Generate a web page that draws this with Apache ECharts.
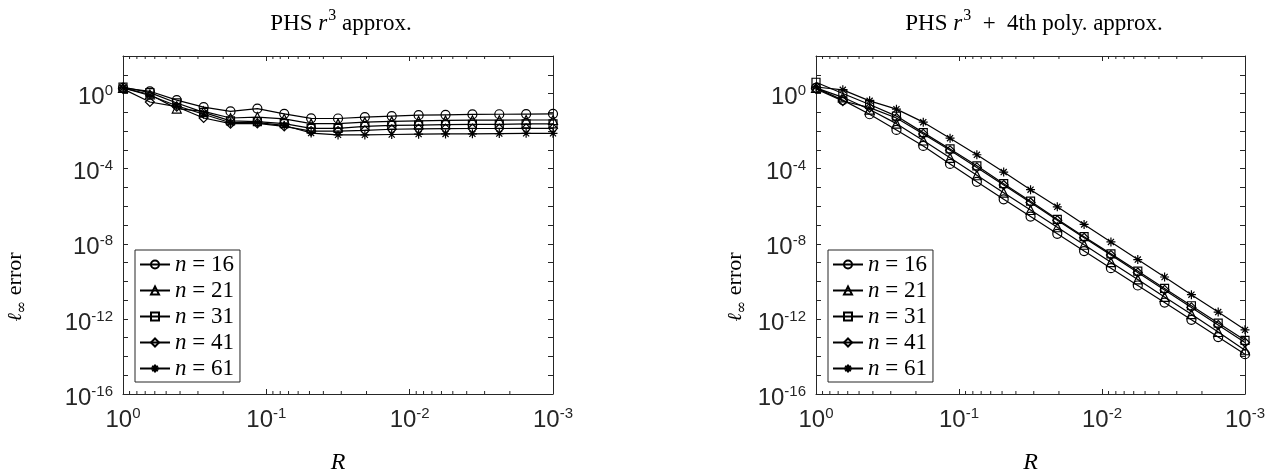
<!DOCTYPE html>
<html><head><meta charset="utf-8">
<script src="https://cdn.jsdelivr.net/npm/echarts@6/dist/echarts.min.js"></script>
<style>html,body{margin:0;padding:0;background:#fff}#c{width:1278px;height:475px}</style>
</head><body><div id="c"></div>
<script>
// Stencil radius R (x values, 17 points)
const R = [1, 0.6494, 0.4217, 0.2738, 0.1778, 0.1155, 0.0750, 0.0487, 0.0316, 0.02054, 0.01334, 0.00866, 0.00562, 0.00365, 0.00237, 0.00154, 0.001];
const seriesNames = ['n = 16', 'n = 21', 'n = 31', 'n = 41', 'n = 61'];

// Left panel: PHS r^3 approx.
const left16 = [2.0, 1.32, 0.447, 0.19, 0.112, 0.158, 0.083, 0.048, 0.047, 0.056, 0.063, 0.071, 0.074, 0.078, 0.079, 0.081, 0.083];
const left21 = [2.0, 0.89, 0.158, 0.112, 0.050, 0.056, 0.045, 0.025, 0.025, 0.030, 0.033, 0.035, 0.037, 0.038, 0.038, 0.039, 0.039];
const left31 = [2.24, 1.12, 0.316, 0.10, 0.035, 0.032, 0.025, 0.014, 0.014, 0.018, 0.020, 0.021, 0.022, 0.023, 0.023, 0.024, 0.024];
const left41 = [1.78, 0.355, 0.20, 0.050, 0.025, 0.026, 0.018, 0.010, 0.010, 0.011, 0.0126, 0.0132, 0.0135, 0.0138, 0.0138, 0.0141, 0.0141];
const left61 = [2.0, 0.79, 0.224, 0.079, 0.028, 0.028, 0.020, 0.0079, 0.0063, 0.0063, 0.0066, 0.0069, 0.0071, 0.0072, 0.0074, 0.0076, 0.0076];

// Right panel: PHS r^3 + 4th poly. approx.
const right16 = [2.0, 0.447, 0.079, 0.0115, 1.62e-3, 1.78e-4, 2.0e-5, 2.34e-6, 2.82e-7, 3.39e-8, 4.07e-9, 5.0e-10, 6.0e-11, 7.4e-12, 8.9e-13, 1.07e-13, 1.32e-14];
const right21 = [2.0, 0.63, 0.141, 0.025, 3.16e-3, 3.8e-4, 4.47e-5, 5.25e-6, 6.3e-7, 7.6e-8, 8.9e-9, 1.05e-9, 1.26e-10, 1.48e-11, 1.78e-12, 2.0e-13, 2.14e-14];
const right31 = [4.0, 1.0, 0.263, 0.063, 8.3e-3, 1.12e-3, 1.41e-4, 1.58e-5, 1.86e-6, 2.0e-7, 2.4e-8, 2.9e-9, 3.5e-10, 4.2e-11, 5.0e-12, 6.0e-13, 7.2e-14];
const right41 = [1.78, 0.40, 0.178, 0.050, 7.1e-3, 9.5e-4, 1.17e-4, 1.35e-5, 1.58e-6, 1.78e-7, 2.1e-8, 2.5e-9, 2.95e-10, 3.5e-11, 4.1e-12, 4.7e-13, 5.5e-14];
const right61 = [2.24, 1.58, 0.41, 0.148, 0.030, 4.2e-3, 5.5e-4, 6.6e-5, 7.6e-6, 9.3e-7, 1.07e-7, 1.26e-8, 1.45e-9, 1.7e-10, 1.95e-11, 2.3e-12, 2.6e-13];

const leftData = [left16, left21, left31, left41, left61];
const rightData = [right16, right21, right31, right41, right61];

// Axis ranges and ticks
const xMin = 1e-3, xMax = 1;
const yMin = 1e-16, yMax = 1e2;
const yTickValues = [1e2, 1e1, 1e0, 1e-1, 1e-2, 1e-3, 1e-4, 1e-5, 1e-6, 1e-7, 1e-8, 1e-9, 1e-10, 1e-11, 1e-12, 1e-13, 1e-14, 1e-15, 1e-16];
const yLabelValues = [1e0, 1e-4, 1e-8, 1e-12, 1e-16];
const xTickValues = [1e0, 1e-1, 1e-2, 1e-3];
const minorMults = [2, 3, 4, 5, 6, 7, 8, 9];
const minorDecades = [0.1, 0.01, 0.001];

const titles = ['{n|PHS }{i|r}{s|3}{n| approx.}', '{n|PHS }{i|r}{s|3}{n|  +  4th poly. approx.}'];

const SYMBOLS = ['circle', 'triangle', 'rect', 'diamond', 'path://M5,0L5,10M0,5L10,5M1.6,1.6L8.4,8.4M1.6,8.4L8.4,1.6'];
const SIZES = [9, 9, 8, 9, 9];
const AX = '#262626';

const tickRich = {
  b: {fontFamily: 'Liberation Sans', fontSize: 24, lineHeight: 24, verticalAlign: 'bottom', color: AX},
  s: {fontFamily: 'Liberation Sans', fontSize: 15, lineHeight: 15, verticalAlign: 'bottom', padding: [0, 0, 11, 0], color: AX}
};
function expOf(v) { return Math.round(Math.log10(v)); }
function tickFmt(v) { return '{b|10}{s|' + expOf(v) + '}'; }

const grids = [
  {left: 123, top: 56, width: 430, height: 338, outerBoundsMode: 'none', containLabel: false},
  {left: 816, top: 56, width: 429, height: 338, outerBoundsMode: 'none', containLabel: false}
];
const centers = [336, 1029];
const yNameGaps = [97, 70];

const xAxes = [], yAxes = [], series = [], titleOpts = [], legends = [];
const minorVals = [];
minorDecades.forEach(d => minorMults.forEach(m => minorVals.push(m * d)));

for (let g = 0; g < 2; g++) {
  const baseX = {
    type: 'log', logBase: 10, gridIndex: g, inverse: true, min: xMin, max: xMax,
    axisLine: {show: true, onZero: false, lineStyle: {color: AX, width: 1}},
    axisTick: {show: true, inside: true, length: 5, customValues: xTickValues, lineStyle: {color: AX, width: 1}},
    splitLine: {show: false}, minorTick: {show: false}
  };
  xAxes.push(Object.assign({}, baseX, {
    position: 'bottom',
    axisLabel: {formatter: tickFmt, customValues: xTickValues, rich: tickRich, margin: 6, padding: [8, 0, 0, 0]},
    name: 'R', nameLocation: 'middle', nameGap: 57,
    nameTextStyle: {fontFamily: 'Liberation Serif', fontStyle: 'italic', fontSize: 24, color: '#000'}
  }));
  xAxes.push(Object.assign({}, baseX, {position: 'top', axisLabel: {show: false}}));
  const baseY = {
    type: 'log', logBase: 10, gridIndex: g, min: yMin, max: yMax,
    axisLine: {show: true, onZero: false, lineStyle: {color: AX, width: 1}},
    axisTick: {show: true, inside: true, length: 5, customValues: yTickValues, lineStyle: {color: AX, width: 1}},
    splitLine: {show: false}
  };
  yAxes.push(Object.assign({}, baseY, {
    position: 'left',
    axisLabel: {formatter: tickFmt, customValues: yLabelValues, rich: tickRich, margin: 10, padding: [8, 0, 0, 0]},
    name: '{i|ℓ}{sub|∞}{n| error}', nameLocation: 'middle', nameRotate: 90, nameGap: yNameGaps[g],
    nameTextStyle: {padding: [0, 124, 0, 0], rich: {
      i: {fontFamily: 'DejaVu Serif', fontStyle: 'italic', fontSize: 20, color: '#000', verticalAlign: 'bottom', lineHeight: 22},
      sub: {fontFamily: 'DejaVu Serif', fontSize: 15, color: '#000', verticalAlign: 'bottom', lineHeight: 15, padding: [0, 0, -4, 0]},
      n: {fontFamily: 'Liberation Serif', fontSize: 22, color: '#000', verticalAlign: 'bottom', lineHeight: 22}
    }}
  }));
  yAxes.push(Object.assign({}, baseY, {position: 'right', axisLabel: {show: false}}));

  const dataSet = g === 0 ? leftData : rightData;
  dataSet.forEach((arr, i) => {
    series.push({
      type: 'line', name: seriesNames[i], xAxisIndex: g * 2, yAxisIndex: g * 2,
      data: R.map((r, k) => [r, arr[k]]),
      symbol: SYMBOLS[i], symbolSize: SIZES[i], showAllSymbol: true,
      lineStyle: {color: '#000', width: 1.2},
      itemStyle: {color: 'transparent', borderColor: '#000', borderWidth: 1.2},
      emphasis: {disabled: true}, animation: false, clip: false, z: 3
    });
  });
  // minor log ticks on x (top and bottom), placed via the axis scale
  series.push({
    type: 'custom', xAxisIndex: g * 2, yAxisIndex: g * 2, silent: true, animation: false, clip: false, z: 4,
    data: minorVals.map(v => [v, 1]),
    renderItem: function (params, api) {
      const x = api.coord([api.value(0), api.value(1)])[0];
      const cs = params.coordSys;
      return {type: 'group', children: [
        {type: 'line', shape: {x1: x, y1: cs.y, x2: x, y2: cs.y + 3}, style: {stroke: AX, lineWidth: 1}},
        {type: 'line', shape: {x1: x, y1: cs.y + cs.height, x2: x, y2: cs.y + cs.height - 3}, style: {stroke: AX, lineWidth: 1}}
      ]};
    }
  });

  titleOpts.push({
    text: titles[g], left: centers[g], top: 0, textAlign: 'center',
    textStyle: {fontWeight: 'normal', rich: {
      n: {fontFamily: 'Liberation Serif', fontWeight: 'normal', fontSize: 23, color: '#000', verticalAlign: 'bottom', lineHeight: 30},
      i: {fontFamily: 'Liberation Serif', fontWeight: 'normal', fontStyle: 'italic', fontSize: 23, color: '#000', verticalAlign: 'bottom', lineHeight: 30},
      s: {fontFamily: 'Liberation Serif', fontWeight: 'normal', fontSize: 16, color: '#000', verticalAlign: 'bottom', lineHeight: 16, padding: [0, 0, 11, 1]}
    }}
  });

  legends.push({
    orient: 'vertical', left: grids[g].left + 12, top: 250,
    data: seriesNames, itemWidth: 30, itemHeight: 10, itemGap: 3,
    padding: [3, 6, 2, 4], borderColor: AX, borderWidth: 1, backgroundColor: '#fff',
    selectedMode: false,
    formatter: n => '{i|n}{t| = ' + n.split('= ')[1] + '}',
    textStyle: {rich: {
      i: {fontFamily: 'Liberation Serif', fontStyle: 'italic', fontSize: 23, color: '#000', lineHeight: 20},
      t: {fontFamily: 'Liberation Serif', fontSize: 23, color: '#000', lineHeight: 20}
    }}
  });
}

const chart = echarts.init(document.getElementById('c'), null, {renderer: 'canvas'});
chart.setOption({
  animation: false,
  backgroundColor: '#fff',
  title: titleOpts,
  grid: grids,
  xAxis: xAxes,
  yAxis: yAxes,
  legend: legends,
  series: series
});
</script>
</body></html>
